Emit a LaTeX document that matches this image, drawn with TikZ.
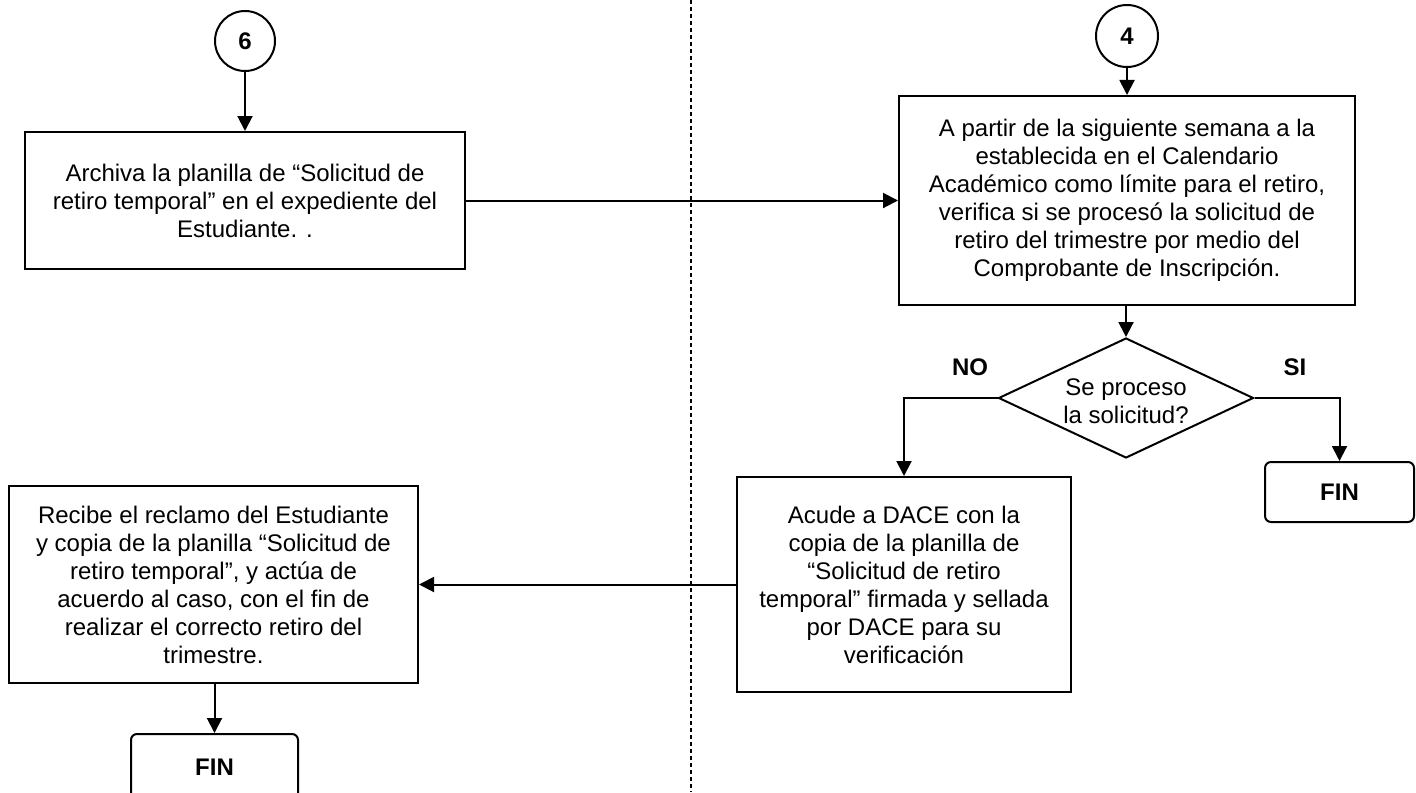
\documentclass[tikz,border=0pt]{standalone}
\usepackage{fontspec}
\setmainfont{Liberation Sans}
\usetikzlibrary{arrows.meta,shapes.geometric}
\begin{document}
\begin{tikzpicture}[x=0.5pt,y=-0.5pt,
  font=\fontsize{12pt}{14pt}\selectfont,
  box/.style={draw,line width=1pt,inner sep=0pt,align=center},
  finbox/.style={draw,line width=1pt,rounded corners=3pt,inner sep=0pt,font=\fontsize{12pt}{14pt}\selectfont\bfseries},
  conn/.style={draw,line width=1pt,minimum size=#1,circle,inner sep=0pt,font=\fontsize{12pt}{14pt}\selectfont\bfseries},
  dec/.style={draw,line width=1pt,diamond,minimum width=127.5pt,minimum height=60pt,inner sep=0pt},
  lbl/.style={font=\fontsize{12pt}{14pt}\selectfont\bfseries},
  arr/.style={line width=1pt,-{Triangle[length=7.5pt,width=7.5pt]}},
  lane/.style={line width=0.8pt,dash pattern=on 2pt off 1.5pt}]
\useasboundingbox (0,0) rectangle (1416,792);
\clip (0,0) rectangle (1416,792);
\coordinate (laneTop) at (691,0);
\coordinate (laneBot) at (691,792);
\draw[lane] (laneTop) -- (laneBot);

\node[conn=30pt] (c6) at (245,41) {6};
\node[box,minimum width=220pt,minimum height=68.5pt] (b1) at (245,200.5)
  {Archiva la planilla de “Solicitud de\\retiro temporal” en el expediente del\\Estudiante. .};

\node[conn=31pt] (c4) at (1127,36) {4};
\node[box,minimum width=228pt,minimum height=104.5pt] (b2) at (1127,200.5)
  {A partir de la siguiente semana a la\\establecida en el Calendario\\Académico como límite para el retiro,\\verifica si se procesó la solicitud de\\retiro del trimestre por medio del\\Comprobante de Inscripción.};

\node[dec] (d) at (1126,398) {};
\node[align=center,inner sep=0pt] (dt) at (1126,401) {Se proceso\\la solicitud?};
\node[lbl] (no) at (970,367) {NO};
\node[lbl] (si) at (1295,367) {SI};

\node[finbox,minimum width=74.5pt,minimum height=30pt] (fin1) at (1339.5,492) {FIN};

\node[box,minimum width=167pt,minimum height=107.5pt] (b3) at (904,584.5)
  {Acude a DACE con la\\copia de la planilla de\\“Solicitud de retiro\\temporal” firmada y sellada\\por DACE para su\\verificación};

\node[box,minimum width=204.5pt,minimum height=98.5pt] (b4) at (213.5,584.5)
  {Recibe el reclamo del Estudiante\\y copia de la planilla “Solicitud de\\retiro temporal”, y actúa de\\acuerdo al caso, con el fin de\\realizar el correcto retiro del\\trimestre.};

\node[finbox,minimum width=83.5pt,minimum height=33pt] (fin2) at (214.5,767) {FIN};

\draw[arr] (c6) -- (b1);
\draw[arr] (b1.east) -- (b1.east -| b2.west);
\draw[arr] (c4) -- (b2);
\draw[arr] (b2.south -| d.north) -- (d.north);
\draw[arr] (d.west) -| (b3.north);
\draw[arr] (d.east) -| (fin1.north);
\draw[arr] (b3.west) -- (b3.west -| b4.east);
\draw[arr] (b4.south) -- (b4.south -| fin2.north) -- (fin2.north);
\end{tikzpicture}
\end{document}
